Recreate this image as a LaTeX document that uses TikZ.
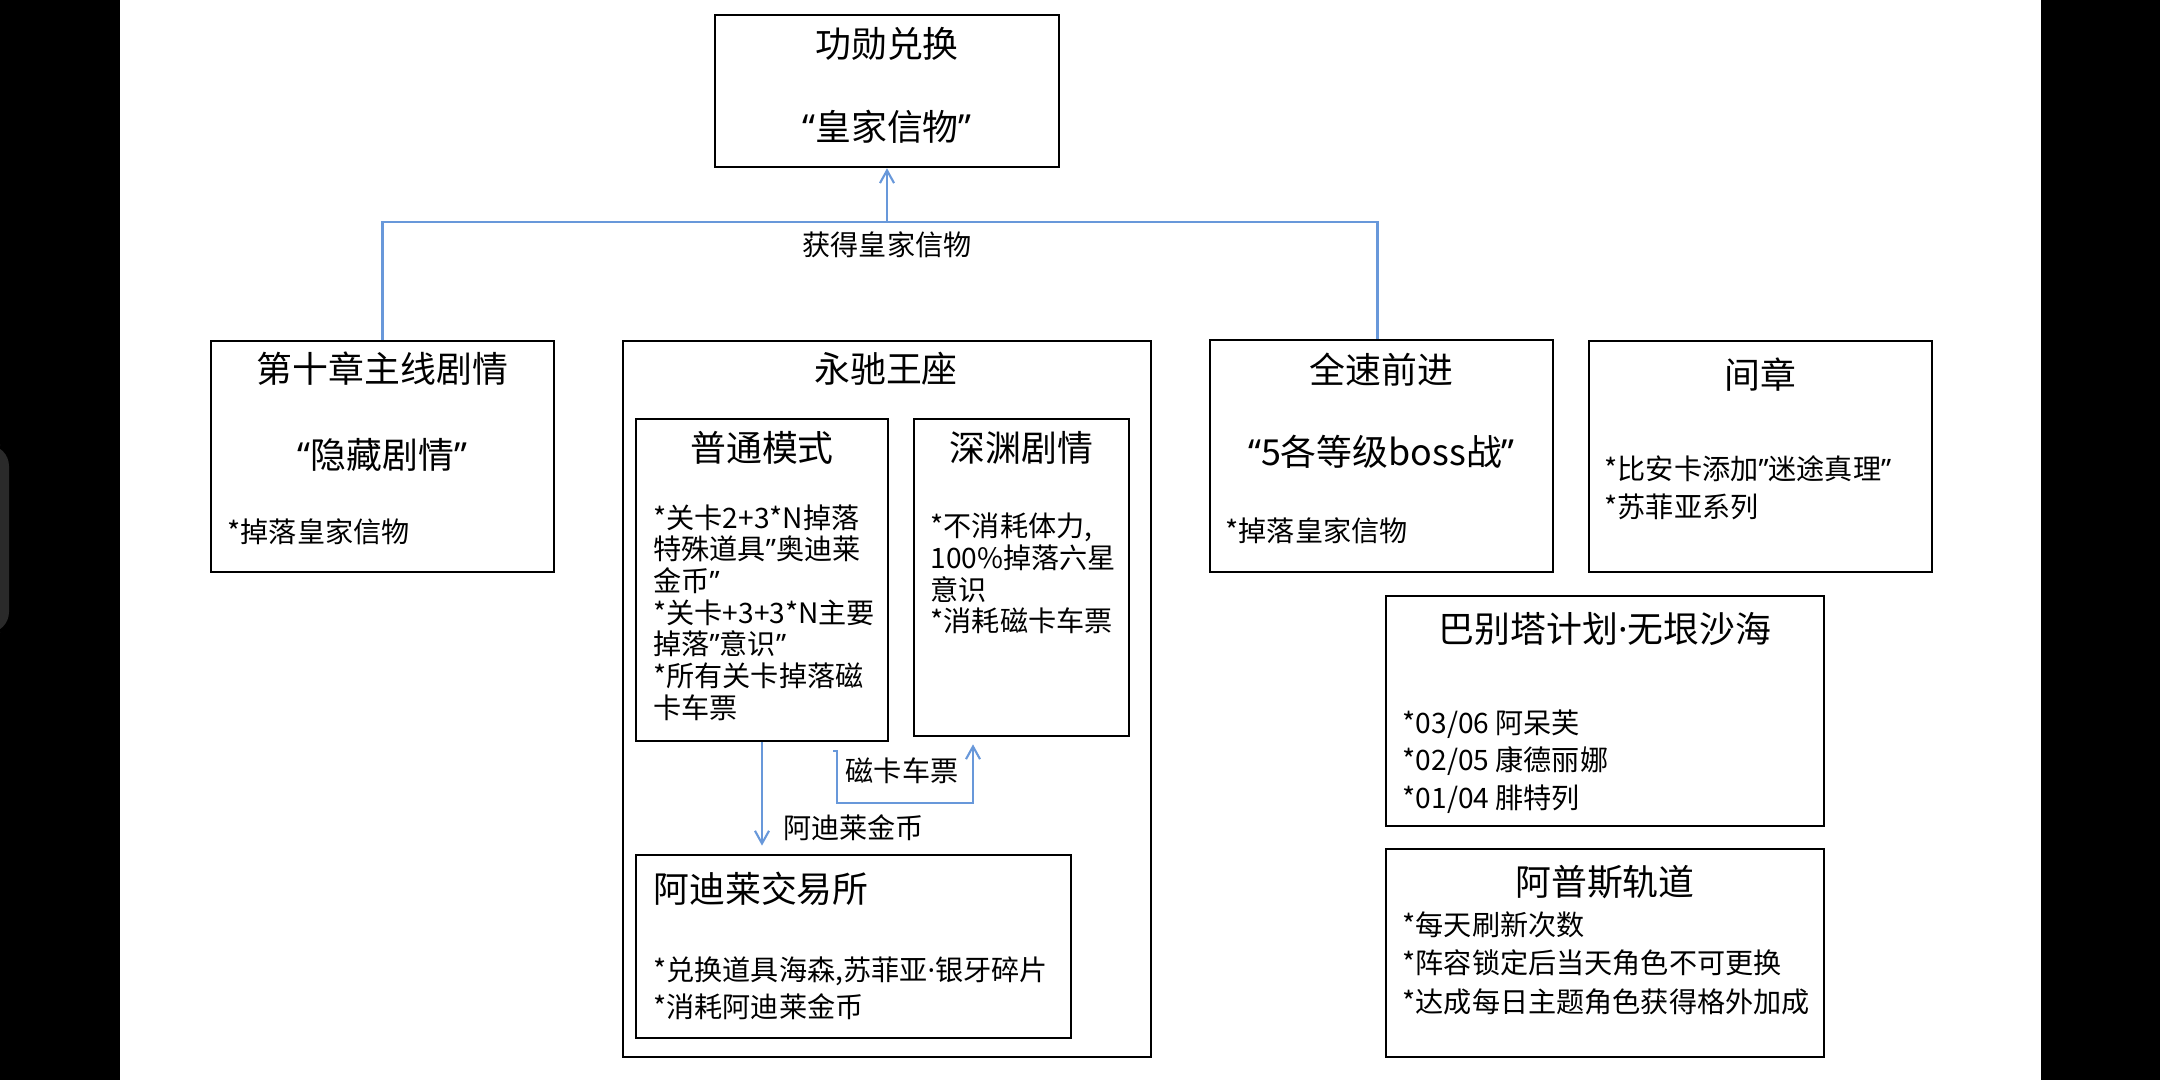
\documentclass[tikz,border=0pt]{standalone}
\usepackage{fontspec}
\setmainfont{Noto Sans CJK SC}
\newfontfamily\latinq{Noto Sans}
\usetikzlibrary{arrows.meta}
\definecolor{conncol}{RGB}{104,152,218}
\definecolor{tabgray}{RGB}{42,42,42}
\newcommand\oq{{\latinq “}}
\newcommand\cq{{\latinq ”}}
\newcommand\mdot{{\latinq ·}}
\tikzset{
  box/.style={draw=black, line width=0.7pt, inner sep=0pt},
  ttl/.style={inner sep=0pt, font=\fontsize{10.2pt}{12pt}\selectfont},
  body/.style={inner sep=0pt, anchor=west, align=left, font=\fontsize{8pt}{#1}\selectfont},
  body/.default=9pt,
  lbl/.style={inner sep=0pt, font=\fontsize{8pt}{9pt}\selectfont},
  conn/.style={draw=conncol, line width=0.6pt},
  tip/.style={-{Straight Barb[length=3.6pt,width=4pt]}}
}
\begin{document}
\begin{tikzpicture}[x=0.01cm,y=-0.01cm]
\useasboundingbox (0,0) rectangle (2160,1080);
\fill[white] (0,0) rectangle (2160,1080);
\fill[black] (0,0) rectangle (120,1080);
\fill[black] (2041,0) rectangle (2160,1080);
\fill[tabgray, rounded corners=6pt] (-20,445) rectangle (9,633);

% boxes
\node[box, minimum width=3.44cm, minimum height=1.52cm] (top) at (887,91) {};
\node[box, minimum width=3.43cm, minimum height=2.31cm] (ch10) at (382.5,456.5) {};
\node[box, line width=0.5pt, minimum width=5.28cm, minimum height=7.16cm] (yong) at (887,699) {};
\node[box, minimum width=3.43cm, minimum height=2.32cm] (full) at (1381.5,456) {};
\node[box, minimum width=3.43cm, minimum height=2.31cm] (inter) at (1760.5,456.5) {};
\node[box, minimum width=2.52cm, minimum height=3.22cm] (normal) at (762,580) {};
\node[box, minimum width=2.15cm, minimum height=3.17cm] (abyss) at (1021.5,577.5) {};
\node[box, minimum width=4.35cm, minimum height=1.83cm] (exch) at (853.5,946.5) {};
\node[box, minimum width=4.38cm, minimum height=2.30cm] (babel) at (1605,711) {};
\node[box, minimum width=4.38cm, minimum height=2.08cm] (apus) at (1605,953) {};

% titles
\node[ttl] (topA) at (887,44) {功勋兑换};
\node[ttl] (topB) at (887,127) {\oq 皇家信物\cq};
\node[ttl] (ch10A) at (382.5,369) {第十章主线剧情};
\node[ttl] (ch10B) at (382.5,455) {\oq 隐藏剧情\cq};
\node[ttl] (yongA) at (886,369) {永驰王座};
\node[ttl] (fullA) at (1381.5,370) {全速前进};
\node[ttl] (fullB) at (1381.5,452) {\oq 5各等级boss战\cq};
\node[ttl] (interA) at (1760.5,375) {间章};
\node[ttl] (normalA) at (762,448) {普通模式};
\node[ttl] (abyssA) at (1021.5,448) {深渊剧情};
\node[ttl, anchor=west] (exchA) at (652.7,889) {阿迪莱交易所};
\node[ttl] (babelA) at (1605,629) {巴别塔计划\mdot 无垠沙海};
\node[ttl] (apusA) at (1605,882) {阿普斯轨道};

% body texts
\node[body] (ch10C) at (227,532) {*掉落皇家信物};
\node[body] (fullC) at (1225,531) {*掉落皇家信物};
\node[body=10.67pt] (interB) at (1604,487.7) {*比安卡添加\cq 迷途真理\cq\\*苏菲亚系列};
\node[body] (normalB) at (652.7,612.5) {*关卡2+3*N掉落\\特殊道具\cq 奥迪莱\\金币\cq\\*关卡+3+3*N主要\\掉落\cq 意识\cq\\*所有关卡掉落磁\\卡车票};
\node[body] (abyssB) at (930,573.5) {*不消耗体力,\\100\%掉落六星\\意识\\*消耗磁卡车票};
\node[body=10.5pt] (exchB) at (652.7,988.5) {*兑换道具海森,苏菲亚\mdot 银牙碎片\\*消耗阿迪莱金币};
\node[body=10.67pt] (babelB) at (1402,761.6) {*03/06 阿呆芙\\*02/05 康德丽娜\\*01/04 腓特列};
\node[body=10.95pt] (apusB) at (1402,963) {*每天刷新次数\\*阵容锁定后当天角色不可更换\\*达成每日主题角色获得格外加成};

% connectors
\coordinate (jn) at (887,222);
\draw[conn] (ch10.north) |- (jn) -| ([xshift=-0.04cm]full.north);
\draw[conn, tip] (jn) -- (top.south);
\node[lbl] (getL) at (887,245) {获得皇家信物};

\draw[conn, tip, shorten >=2.3pt] (normal.south) -- (normal.south |- exch.north);
\node[lbl] (coinL) at (853.5,828) {阿迪莱金币};

\coordinate (tk) at (833,751);
\coordinate (tkend) at (973,803);
\draw[conn, tip, shorten >=2pt] (tk) -- ++(4,0) |- (tkend) -- (tkend |- abyss.south);
\node[lbl] (tkL) at (902,771) {磁卡车票};
\end{tikzpicture}
\end{document}
